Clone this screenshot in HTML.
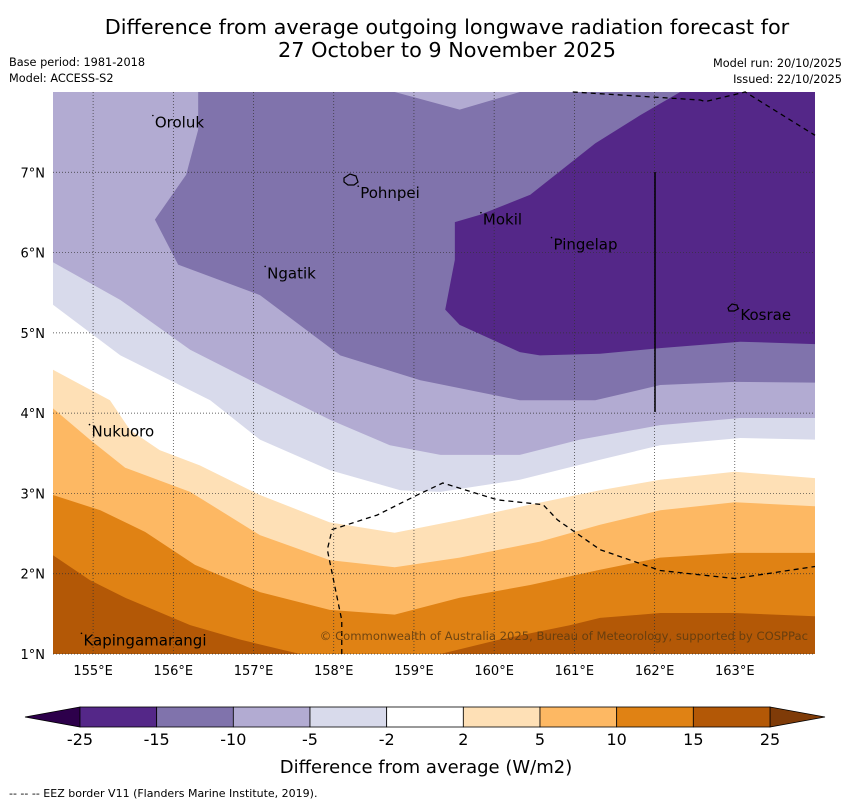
<!DOCTYPE html>
<html><head><meta charset="utf-8"><style>
body{margin:0;background:#fff;width:850px;height:804px;overflow:hidden;font-family:"DejaVu Sans","Liberation Sans",sans-serif}
</style></head><body>
<svg width="850" height="804" xmlns="http://www.w3.org/2000/svg" font-family="DejaVu Sans, Liberation Sans, sans-serif">
<text x="447" y="34" text-anchor="middle" font-size="20.8">Difference from average outgoing longwave radiation forecast for</text>
<text x="447" y="57" text-anchor="middle" font-size="20.8">27 October to 9 November 2025</text>
<text x="9" y="66" font-size="11.3">Base period: 1981-2018</text>
<text x="9" y="82" font-size="11.3">Model: ACCESS-S2</text>
<text x="842" y="67" font-size="11.3" text-anchor="end">Model run: 20/10/2025</text>
<text x="842" y="83" font-size="11.3" text-anchor="end">Issued: 22/10/2025</text>
<defs><clipPath id="pc"><rect x="53" y="92" width="762" height="562"/></clipPath></defs>
<g id="plot" clip-path="url(#pc)"><rect x="53" y="92" width="762" height="562" fill="#fff"/></g>
<g id="grid"></g>
<g id="overlay"></g>
<g id="axes"></g>
<g id="cbar"></g>
<text x="426" y="773" text-anchor="middle" font-size="18">Difference from average (W/m2)</text>
<text x="9" y="797" font-size="11">-- -- -- EEZ border V11 (Flanders Marine Institute, 2019).</text>
</svg>
<script>
const lonTicks=[155,156,157,158,159,160,161,162,163];
const latTicks=[1,2,3,4,5,6,7];
const levels=[-25,-15,-10,-5,-2,2,5,10,15,25];
const levelColors=["#542788","#8073ac","#b2abd2","#d8daeb","#ffffff","#fee0b6","#fdb863","#e08214","#b35806"];
const m2Lon=[154.5,155.34,156.46,157.08,157.95,158.83,159.33,160.32,161.32,162.07,163.07,164.0];
const m2Lat=[5.35,4.72,4.16,3.67,3.29,3.04,3.02,3.17,3.42,3.60,3.69,3.67];
const m5Lon=[154.5,155.34,156.21,156.96,157.95,158.70,159.33,160.32,161.07,162.07,163.07,164.0];
const m5Lat=[5.88,5.41,4.79,4.41,3.92,3.60,3.48,3.48,3.67,3.85,3.94,3.94];
const m10Lon=[156.31,156.31,156.16,155.77,156.06,157.08,158.08,159.08,160.32,161.26,162.07,163.0,164.0,164.0,160.32,159.57,158.76];
const m10Lat=[8,7.53,6.97,6.41,5.85,5.47,4.72,4.41,4.16,4.16,4.35,4.39,4.38,8,8,7.78,8];
const m15Lon=[162.32,161.82,161.26,160.45,159.82,159.51,159.51,159.39,159.57,160.32,160.57,161.32,162.07,163.07,164.0,164.0];
const m15Lat=[8,7.71,7.36,6.72,6.47,6.38,5.91,5.29,5.10,4.76,4.72,4.74,4.81,4.89,4.86,8];
const p2Lon=[154.5,155.21,155.46,155.83,156.33,157.08,157.95,158.76,159.57,160.45,161.32,162.07,163.0,164.0];
const p2Lat=[4.54,4.16,3.79,3.54,3.35,2.98,2.64,2.51,2.67,2.86,3.04,3.17,3.27,3.19];
const p5Lon=[154.5,154.96,155.40,156.21,157.08,157.95,158.76,159.57,160.57,161.32,162.07,163.0,164.0];
const p5Lat=[4.06,3.67,3.32,3.02,2.48,2.17,2.08,2.20,2.40,2.61,2.79,2.89,2.84];
const p10Lon=[154.5,155.09,155.65,156.27,157.08,157.95,158.76,159.57,160.45,161.32,162.07,163.0,164.0];
const p10Lat=[2.98,2.79,2.52,2.11,1.77,1.55,1.49,1.70,1.86,2.05,2.20,2.26,2.26];
const p15aLon=[154.5,154.96,155.40,156.21,156.83,157.58,154.5];
const p15aLat=[2.23,1.92,1.70,1.36,1.18,1.0,1.0];
const p15bLon=[159.33,160.07,160.95,161.32,162.07,163.0,164.0,164.0];
const p15bLat=[1.0,1.18,1.36,1.45,1.51,1.51,1.47,1.0];
const eezALon=[160.98,162.57,162.63,163.13,164.0];
const eezALat=[8,7.90,7.88,8,7.46];
const eezBLon=[158.1,158.1,157.92,157.98,158.54,159.04,159.36,160.04,160.61,160.79,161.32,162.07,163.0,164.0];
const eezBLat=[1.0,1.42,2.30,2.55,2.73,2.98,3.13,2.92,2.86,2.67,2.30,2.04,1.94,2.09];
const islandNames=["Oroluk","Pohnpei","Mokil","Pingelap","Ngatik","Kosrae","Nukuoro","Kapingamarangi"];
const islandLon=[155.77,158.33,159.86,160.74,157.17,163.07,154.98,154.88];
const islandLat=[7.67,6.79,6.46,6.15,5.79,5.27,3.82,1.22];

const NS="http://www.w3.org/2000/svg";
const X0=53,X1=815,Y0=92,Y1=654,LON0=154.5,LON1=164.0,LAT0=1,LAT1=8;
const sx=l=>X0+(l-LON0)/(LON1-LON0)*(X1-X0);
const sy=l=>Y1-(l-LAT0)/(LAT1-LAT0)*(Y1-Y0);
function mk(t,a,p){const e=document.createElementNS(NS,t);for(const k in a)e.setAttribute(k,a[k]);p.appendChild(e);return e;}
const plot=document.getElementById('plot');
function poly(lons,lats,close,color,name){
  let pts=lons.map((l,i)=>sx(l)+','+sy(lats[i]));
  if(close==='top'){pts.push(sx(LON1)+','+sy(LAT1));pts.push(sx(LON0)+','+sy(LAT1));}
  if(close==='bottom'){pts.push(sx(LON1)+','+sy(LAT0));pts.push(sx(LON0)+','+sy(LAT0));}
  const p=mk('polygon',{points:pts.join(' '),fill:color},plot);
  
  
}
poly(m2Lon,m2Lat,'top',levelColors[3],'band-minus-2');
poly(m5Lon,m5Lat,'top',levelColors[2],'band-minus-5');
poly(m10Lon,m10Lat,null,levelColors[1],'band-minus-10');
poly(m15Lon,m15Lat,null,levelColors[0],'band-minus-15');
poly(p2Lon,p2Lat,'bottom',levelColors[5],'band-plus-2');
poly(p5Lon,p5Lat,'bottom',levelColors[6],'band-plus-5');
poly(p10Lon,p10Lat,'bottom',levelColors[7],'band-plus-10');
poly(p15aLon,p15aLat,null,levelColors[8],'band-plus-15-west');
poly(p15bLon,p15bLat,null,levelColors[8],'band-plus-15-east');

const grid=document.getElementById('grid');
lonTicks.forEach(l=>{const g=mk('line',{x1:sx(l),x2:sx(l),y1:Y0,y2:Y1,stroke:'#333','stroke-width':0.7,'stroke-dasharray':'1,2'},grid);

});
latTicks.forEach(l=>{const g=mk('line',{x1:X0,x2:X1,y1:sy(l),y2:sy(l),stroke:'#333','stroke-width':0.7,'stroke-dasharray':'1,2'},grid);

});

const ov=document.getElementById('overlay');
[[eezALon,eezALat,'eez-border-north'],[eezBLon,eezBLat,'eez-border-south']].forEach(([a,b,n])=>{
  const p=mk('polyline',{points:a.map((l,i)=>sx(l)+','+sy(b[i])).join(' '),fill:'none',stroke:'#000','stroke-width':1.3,'stroke-dasharray':'5,4'},ov);
  
  
});
const vl=mk('line',{x1:655,x2:655,y1:172,y2:412,stroke:'#000','stroke-width':1.5},ov);


const pi=mk('path',{d:'M344,178 l6,-4 6,2 2,6 -4,3 -6,0 -4,-3z',fill:'none',stroke:'#000','stroke-width':1.2},ov);


const ki=mk('path',{d:'M728,308 l4,-4 5,1 1,4 -4,2 -5,0z',fill:'none',stroke:'#000','stroke-width':1.2},ov);


islandNames.forEach((n,i)=>{
  const t=mk('text',{x:sx(islandLon[i]),y:sy(islandLat[i])+9,'font-size':15},ov);
  t.textContent=n;
  
  
  const d=mk('circle',{cx:sx(islandLon[i])-2,cy:sy(islandLat[i])-3,r:0.8,fill:'#000'},ov);
  
  
});
const cp=mk('text',{x:808,y:640,'font-size':11.6,'text-anchor':'end',fill:'#5a3a10','fill-opacity':0.85},ov);
cp.textContent='© Commonwealth of Australia 2025, Bureau of Meteorology, supported by COSPPac';



const ax=document.getElementById('axes');
lonTicks.forEach(l=>{const t=mk('text',{x:sx(l),y:675,'font-size':13,'text-anchor':'middle'},ax);t.textContent=l+'°E';

});
latTicks.forEach(l=>{const t=mk('text',{x:45,y:sy(l)+5,'font-size':13,'text-anchor':'end'},ax);t.textContent=l+'°N';

});

const cb=document.getElementById('cbar');
const CB0=80,CB1=770,CBY=707,CBH=20,w=(CB1-CB0)/levelColors.length;
const lo=mk('polygon',{points:`${CB0},${CBY} 25,${CBY+CBH/2} ${CB0},${CBY+CBH}`,fill:'#2d004b',stroke:'#000','stroke-width':0.8},cb);


const hi=mk('polygon',{points:`${CB1},${CBY} 825,${CBY+CBH/2} ${CB1},${CBY+CBH}`,fill:'#7f3b08',stroke:'#000','stroke-width':0.8},cb);


levelColors.forEach((c,i)=>{const r=mk('rect',{x:CB0+i*w,y:CBY,width:w,height:CBH,fill:c,stroke:'#000','stroke-width':0.8},cb);

});
levels.forEach((v,i)=>{const t=mk('text',{x:CB0+i*w,y:745,'font-size':16,'text-anchor':'middle'},cb);t.textContent=v;

});
</script>
</body></html>
